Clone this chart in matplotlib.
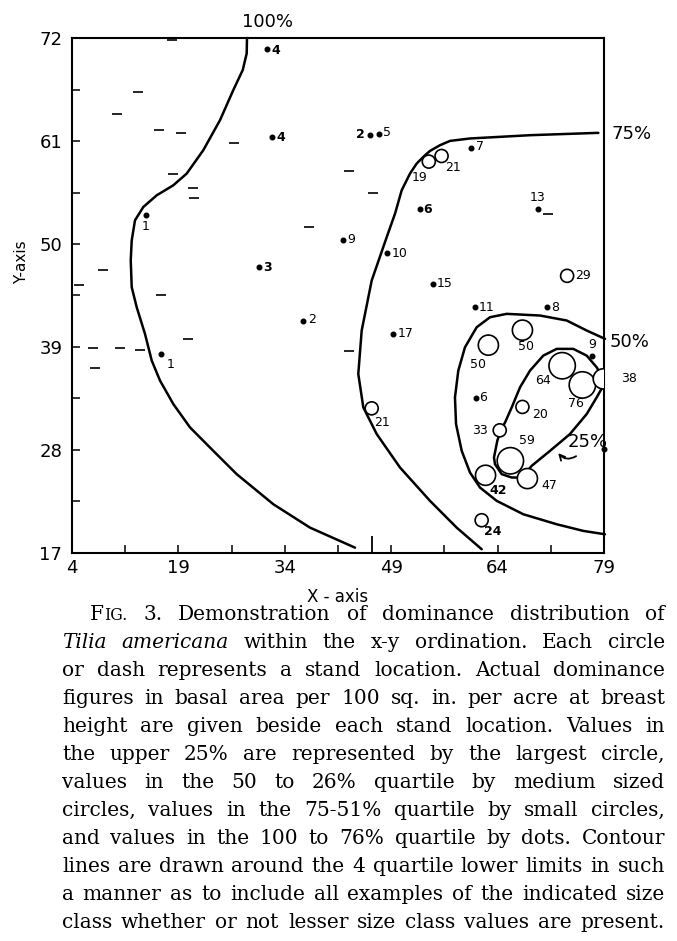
import matplotlib
matplotlib.use('Agg')
import matplotlib.pyplot as plt

W, H = 677, 941

# stand locations with dots (100-76% quartile)
dot_x = [31.45, 32.15, 46.0, 47.3, 14.4, 42.2, 30.3, 48.45, 60.2, 69.7, 53.0,
         54.85, 60.8, 71.0, 49.3, 36.6, 16.5, 77.3, 60.9, 79.0]
dot_y = [70.8, 61.4, 61.65, 61.8, 53.1, 50.45, 47.5, 49.0, 60.3, 53.7, 53.7,
         45.75, 43.25, 43.25, 40.4, 41.8, 38.2, 38.0, 33.5, 28.1]
dot_val = ['4', '4', '2', '5', '1', '9', '3', '10', '7', '13', '6',
           '15', '11', '8', '17', '2', '1', '9', '6', '']

# stand locations with circles
circ_x = [54.3, 56.1, 46.25, 73.8, 67.5, 62.7, 73.1, 75.95, 78.9, 67.5,
          64.3, 65.8, 62.3, 68.2, 61.75]
circ_y = [58.8, 59.4, 32.45, 46.6, 40.8, 39.2, 37.0, 34.95, 35.6, 32.6,
          30.1, 26.85, 25.3, 24.95, 20.5]
circ_val = [19, 21, 21, 29, 50, 50, 64, 76, 38, 20, 33, 59, 42, 47, 24]

# stand locations without Tilia (dashes)
dash_x = [18.05, 13.3, 10.3, 16.27, 19.3, 26.8, 18.3, 21.0, 21.2, 43.0, 46.5,
          37.45, 8.4, 5.0, 16.5, 7.0, 10.7, 13.6, 20.4, 7.2, 43.0, 71.1]
dash_y = [71.8, 66.25, 63.9, 62.2, 61.9, 60.8, 57.5, 56.0, 54.9, 57.8, 55.4,
          51.8, 47.25, 45.6, 44.5, 38.9, 38.9, 38.7, 39.85, 36.8, 38.6, 53.2]
vdash_x = [46.25]
vdash_y0 = [17.0]
vdash_y1 = [18.8]

# contour lines
c100_x = [28.67, 28.63, 28.07, 26.74, 24.87, 22.51, 20.17, 18.28, 15.94, 14.05,
          12.88, 12.42, 12.28, 12.42, 13.12, 14.29, 15.24, 16.41, 18.28, 20.64,
          23.92, 27.22, 32.38, 37.55, 43.9]
c100_y = [72.0, 70.36, 68.58, 66.44, 63.23, 60.02, 57.52, 56.27, 55.2, 53.95,
          52.53, 50.39, 48.25, 45.39, 43.25, 40.4, 37.55, 35.41, 32.91, 30.41,
          27.91, 25.42, 22.21, 19.71, 17.57]
c75_x = [78.2, 68.57, 60.11, 57.29, 55.88, 54.47, 53.77, 52.6, 51.65, 50.48,
         49.54, 48.37, 46.25, 44.84, 44.36, 45.07, 46.96, 50.24, 54.47, 58.23, 61.76]
c75_y = [61.87, 61.62, 61.27, 61.01, 60.55, 59.94, 59.48, 58.6, 57.52, 55.74,
         53.24, 50.74, 46.1, 40.76, 36.12, 32.55, 29.7, 26.13, 22.57, 19.71, 17.4]
c50_x = [79.14, 76.56, 73.74, 69.98, 65.28, 62.93, 61.05, 59.4, 58.46, 57.99,
         58.14, 58.94, 60.11, 61.52, 63.87, 67.62, 72.33, 76.08, 79.14]
c50_y = [39.87, 40.76, 41.83, 42.36, 42.54, 42.18, 41.11, 38.97, 36.48, 33.62,
         30.77, 27.91, 25.59, 23.99, 22.57, 21.14, 20.07, 19.36, 19.0]
c25_x = [78.9, 77.97, 76.56, 74.67, 72.33, 70.44, 68.57, 67.16, 65.99, 65.05,
         64.44, 63.96, 63.49, 63.63, 64.58, 65.99, 67.4, 68.81, 71.39, 74.2,
         76.56, 77.97, 78.9]
c25_y = [35.59, 36.83, 38.08, 38.8, 38.8, 38.08, 36.48, 34.69, 32.55, 30.94,
         30.13, 28.99, 27.2, 26.49, 25.42, 25.06, 25.06, 26.31, 27.91, 29.7,
         31.84, 33.62, 34.87]

x_ticks = [4, 19, 34, 49, 64, 79]
y_ticks = [17, 28, 39, 50, 61, 72]

caption = [
    "FIG. 3. Demonstration of dominance distribution of",
    "_Tilia_ _americana_ within the x-y ordination. Each circle",
    "or dash represents a stand location. Actual dominance",
    "figures in basal area per 100 sq. in. per acre at breast",
    "height are given beside each stand location. Values in",
    "the upper 25% are represented by the largest circle,",
    "values in the 50 to 26% quartile by medium sized",
    "circles, values in the 75-51% quartile by small circles,",
    "and values in the 100 to 76% quartile by dots. Contour",
    "lines are drawn around the 4 quartile lower limits in such",
    "a manner as to include all examples of the indicated size",
    "class whether or not lesser size class values are present.",
]

# label offsets in pixels (layout only)
dot_off = [(5, -1), (5, 0), (-5, 0), (4, 1), (0, -12), (4, 0), (5, 0), (4, 0),
           (5, 1), (0, 12), (4, 0), (4, 0), (4, 0), (4, 0), (4, 0), (5, 1),
           (6, -10), (0, 12), (4, 1), (0, 0)]
dot_bold = [True, True, True, False, False, False, True, False, False, False,
            True, False, False, False, False, False, False, False, False, False]
circ_off = [(-9, -16), (11, -12), (10, -14), (8, 0), (4, -16), (-10, -19),
            (-19, -15), (-6, -19), (18, 0), (18, -8), (-20, 0), (17, 20),
            (13, -15), (22, -7), (11, -11)]
circ_bold = [False] * 12 + [True, False, True]

fig = plt.figure(figsize=(W / 100, H / 100), dpi=100)
ax = fig.add_axes([72 / W, 1 - 553 / H, 532 / W, 515 / H])
ax.set_xlim(4, 79)
ax.set_ylim(17, 72)

for s in ax.spines.values():
    s.set_linewidth(1.5)

ax.set_xticks(x_ticks)
ax.set_yticks(y_ticks)
ax.set_xticks([11.5, 26.5, 41.5, 56.5, 71.5], minor=True)
ax.set_yticks([22.5, 33.5, 44.5, 55.5, 66.5], minor=True)
ax.tick_params(which='both', direction='in', length=6, width=1.1)
ax.tick_params(axis='x', labelsize=13, pad=4)
ax.tick_params(axis='y', labelsize=13, pad=7)

ax.set_xlabel('X - axis', fontsize=12, labelpad=8)
fig.text(22 / W, 1 - 262 / H, 'Y-axis', rotation=90, fontsize=11,
         ha='center', va='center')

# contour lines
for cx, cy in [(c100_x, c100_y), (c75_x, c75_y), (c50_x, c50_y), (c25_x, c25_y)]:
    ax.plot(cx, cy, color='black', lw=1.8, solid_capstyle='round', zorder=2,
            clip_on=False)

# dashes
ax.plot(dash_x, dash_y, ls='none', marker='_', ms=7.5, mew=1.2, color='black', zorder=3)
ax.vlines(vdash_x, vdash_y0, vdash_y1, color='black', lw=1.3, zorder=3)

# dots
ax.plot(dot_x, dot_y, ls='none', marker='o', ms=3.3, color='black', zorder=4,
        clip_on=False)
for x, y, v, off, b in zip(dot_x, dot_y, dot_val, dot_off, dot_bold):
    if not v:
        continue
    ha = 'center' if off[0] == 0 else ('left' if off[0] > 0 else 'right')
    ax.annotate(v, (x, y), xytext=off, textcoords='offset pixels', ha=ha,
                va='center', fontsize=9, fontweight='bold' if b else 'normal')

# circles sized by quartile class
def circ_size(v):
    if v >= 57:
        return 360
    if v >= 38:
        return 210
    return 88

ax.scatter(circ_x, circ_y, s=[circ_size(v) for v in circ_val], facecolor='white',
           edgecolor='black', linewidth=1.2, zorder=5)
for x, y, v, off, b in zip(circ_x, circ_y, circ_val, circ_off, circ_bold):
    ha = 'left' if off[1] == 0 and off[0] > 0 else 'center'
    ax.annotate(str(v), (x, y), xytext=off, textcoords='offset pixels', ha=ha,
                va='center', fontsize=9, fontweight='bold' if b else 'normal',
                annotation_clip=False)

# contour labels
ax.text(27.97, 73.7, '100%', fontsize=13, ha='left', va='center', clip_on=False)
ax.text(80.0, 61.8, '75%', fontsize=13, ha='left', va='center', clip_on=False)
ax.text(79.8, 39.5, '50%', fontsize=13, ha='left', va='center', clip_on=False)
ax.text(76.68, 28.9, '25%', fontsize=13, ha='center', va='center')
ax.annotate('', xy=(72.3, 27.9), xytext=(75.4, 27.5),
            arrowprops=dict(arrowstyle='->', lw=1.3, color='black',
                            mutation_scale=10,
                            connectionstyle='arc3,rad=-0.5'))

# justified caption
renderer = fig.canvas.get_renderer()
SERIF = 'DejaVu Serif'
FS = 14.5


def pieces_for(word, fs):
    if word == 'FIG.':
        return [('F', dict(size=fs)), ('IG.', dict(size=fs * 0.78))]
    if word.startswith('_'):
        return [(word.strip('_'), dict(size=fs, style='italic'))]
    return [(word, dict(size=fs))]


def seg_width(txt, kw):
    t = fig.text(0, 0, txt, family=SERIF, **kw)
    w = t.get_window_extent(renderer).width
    t.remove()
    return w


for i, line in enumerate(caption):
    words = line.split()
    x0 = 90 if i == 0 else 62
    x1 = 665
    fs = FS
    while True:
        pieces = [pieces_for(w, fs) for w in words]
        widths = [sum(seg_width(t, kw) for t, kw in p) for p in pieces]
        gap = (x1 - x0 - sum(widths)) / (len(words) - 1)
        if gap >= 5 or fs < 9:
            break
        fs -= 0.2
    base = 620 + 28 * i
    x = x0
    for p, w in zip(pieces, widths):
        xx = x
        for t, kw in p:
            fig.text(xx / W, 1 - base / H, t, family=SERIF, ha='left',
                     va='baseline', **kw)
            xx += seg_width(t, kw)
        x += w + gap

fig.savefig('out.png', dpi=100, facecolor='white')
